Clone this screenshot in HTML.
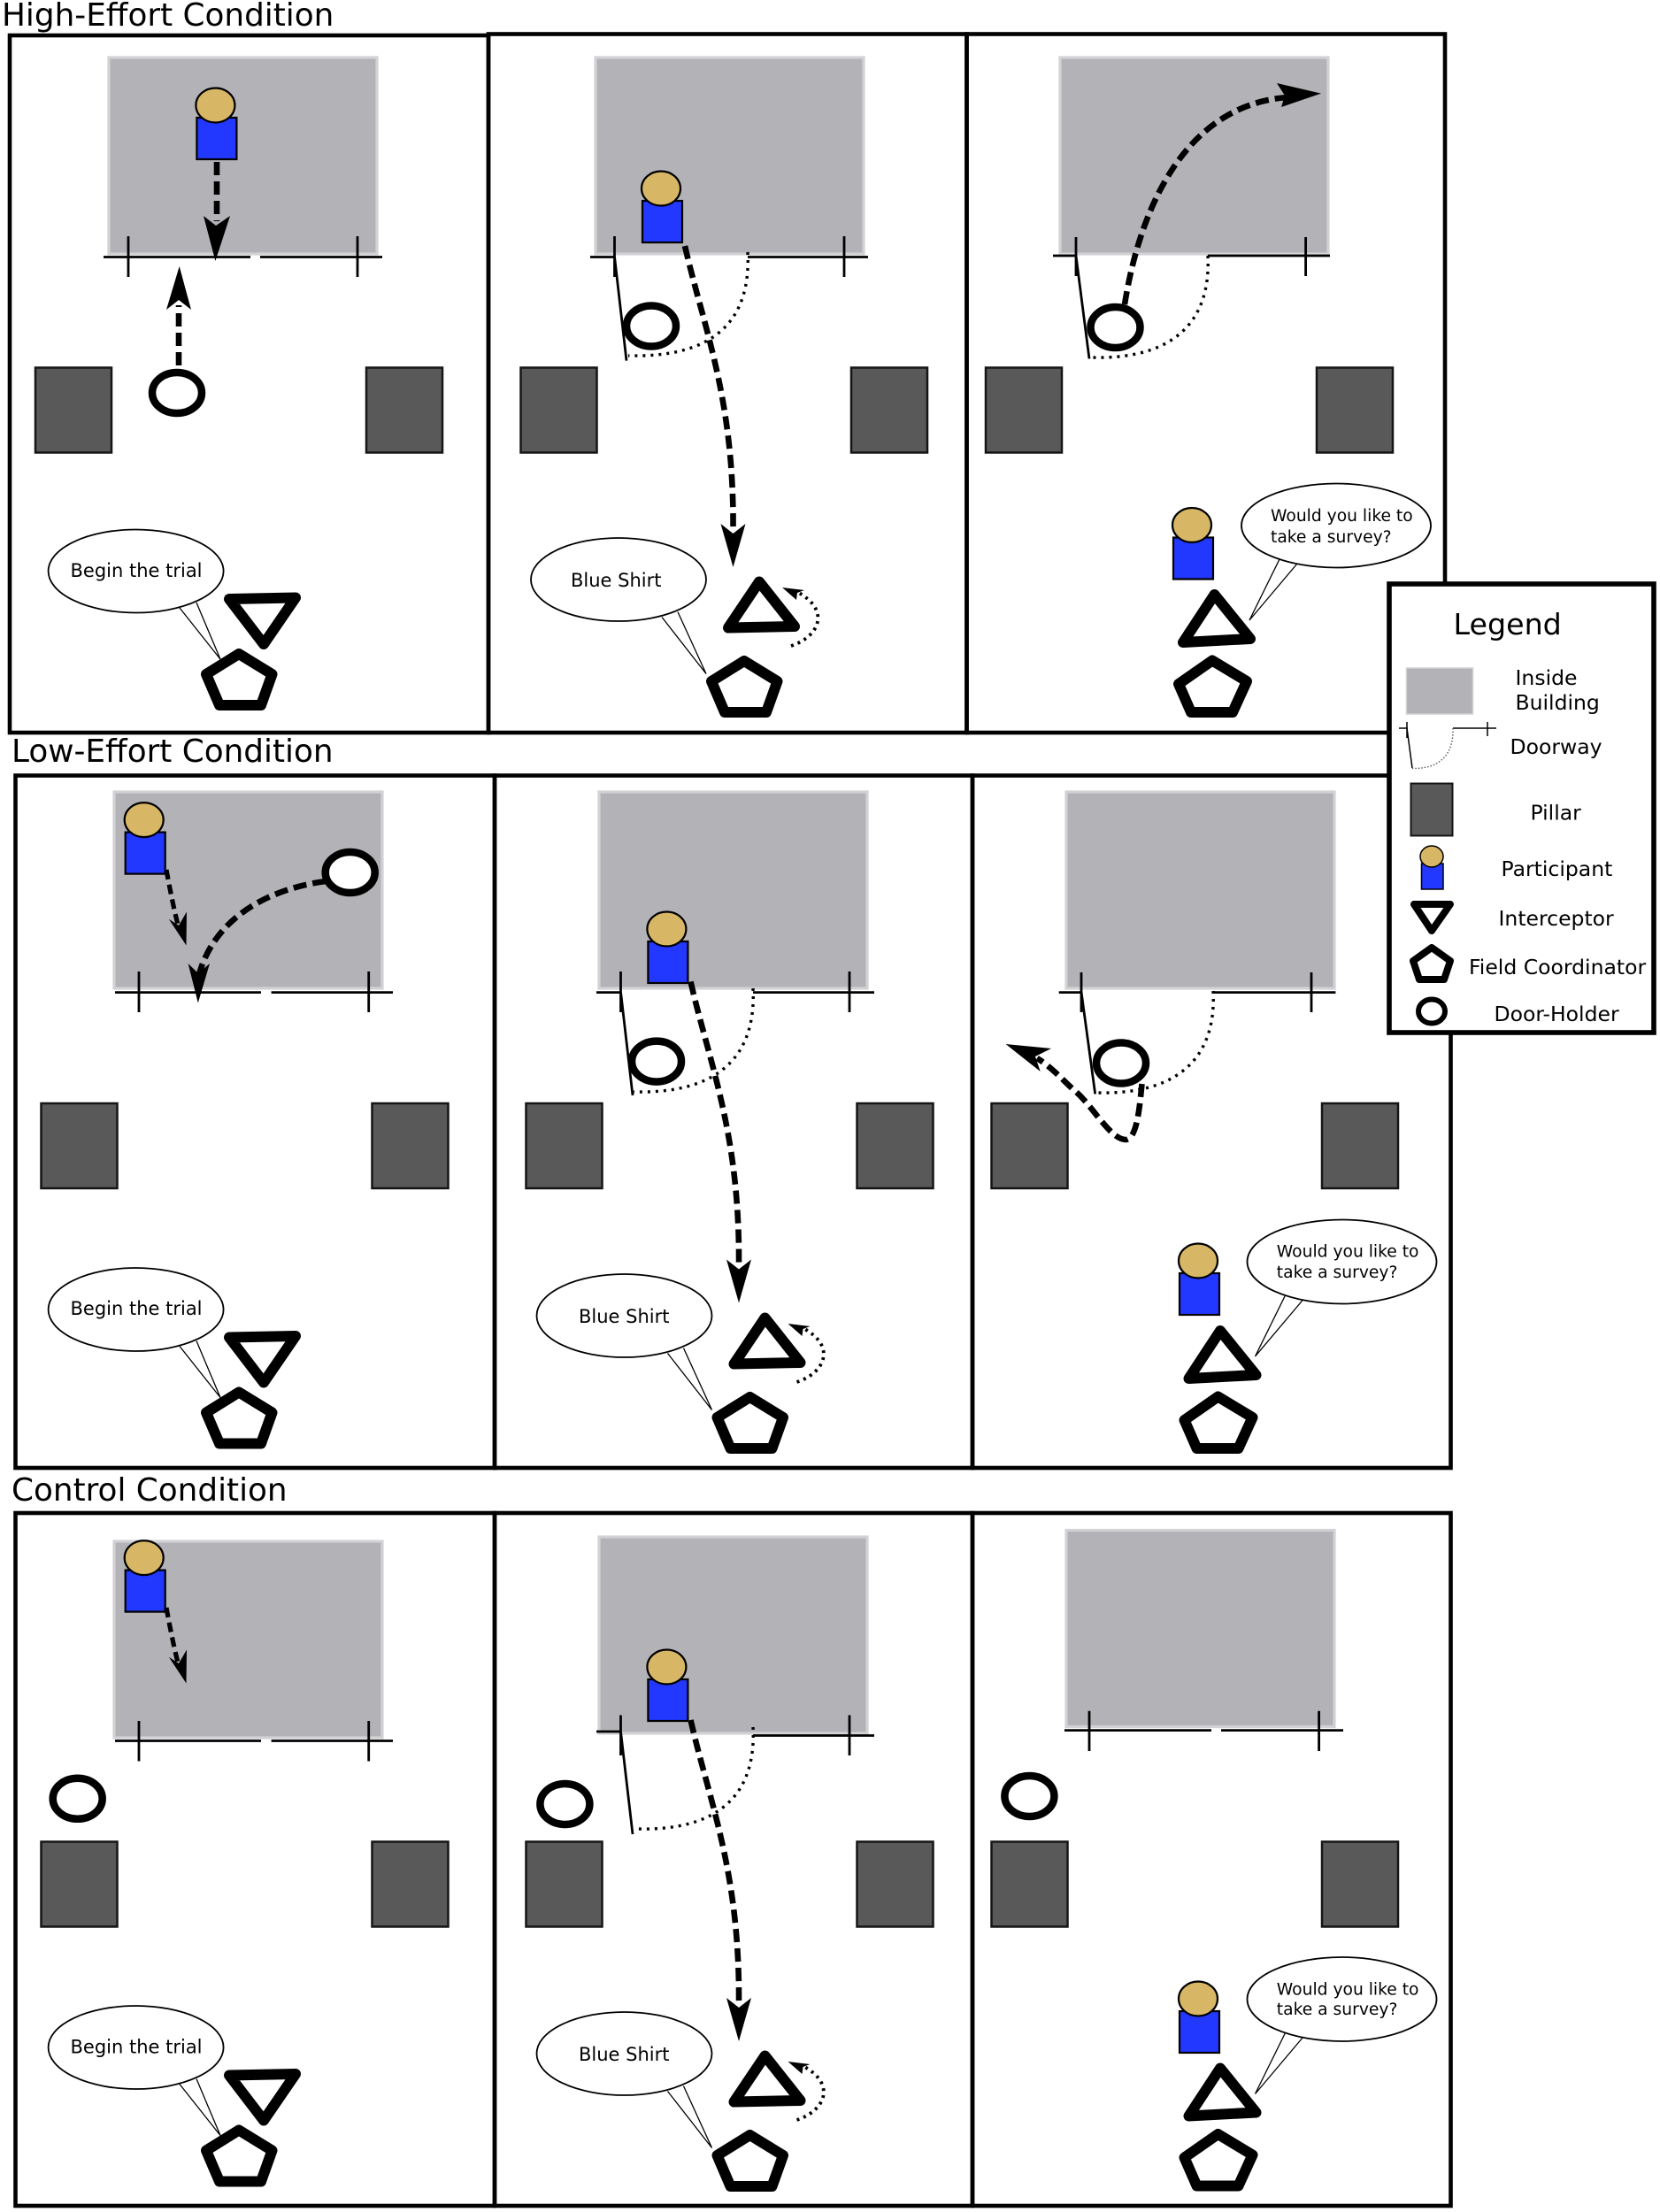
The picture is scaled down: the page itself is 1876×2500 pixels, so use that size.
<!DOCTYPE html>
<html>
<head>
<meta charset="utf-8">
<style>
html,body{margin:0;padding:0;background:#fff;width:1876px;height:2500px;overflow:hidden}
svg{display:block}
text{font-family:"DejaVu Sans",sans-serif;fill:#000}
.t{font-size:35.8px}.s{font-size:21px}.w{font-size:18.7px}.l{font-size:23.5px}
.f{fill:none;stroke:#000;stroke-width:4.6}
.d{stroke:#000;stroke-width:2.8;fill:none}
.o{stroke:#000;stroke-width:3.4;fill:none;stroke-dasharray:3 6}
.a{stroke:#000;stroke-width:6.6;fill:none;stroke-dasharray:15 7}
.a2{stroke:#000;stroke-width:5.2;fill:none;stroke-dasharray:11 6}
.m{stroke:#000;stroke-width:3.8;fill:none;stroke-dasharray:3 5}
.e{fill:#fff;stroke:#000;stroke-width:1.8}
.x{fill:none;stroke:#000;stroke-width:1.3}
</style>
</head>
<body>
<svg width="1876" height="2500" viewBox="0 0 1876 2500" xmlns="http://www.w3.org/2000/svg">
<defs>
<rect id="b" x="0" y="0" width="303" height="222" fill="#b3b2b7" stroke="#d2d2d5" stroke-width="3.2"/>
<rect id="p" x="0" y="0" width="86" height="96" fill="#595959" stroke="#151515" stroke-width="2.5"/>
<g id="u"><rect x="0" y="0" width="45" height="47" fill="#2238ff" stroke="#000" stroke-width="2.2"/><ellipse cx="21" cy="-14" rx="22" ry="19.5" fill="#d7b665" stroke="#000" stroke-width="2.2"/></g>
<ellipse id="r" cx="0" cy="0" rx="28" ry="23" fill="#fff" stroke="#000" stroke-width="8.5"/>
<polygon id="pe" points="270,739 307.5,762 295,797 248,797 233,762" fill="#fff" stroke="#000" stroke-width="12" stroke-linejoin="round"/>
<polygon id="ti" points="259,677 334,675.5 298,728" fill="#fff" stroke="#000" stroke-width="12" stroke-linejoin="round"/>
<polygon id="tu" points="858,657.5 898,708 823,709.5" fill="#fff" stroke="#000" stroke-width="12" stroke-linejoin="round"/>
<polygon id="tv" points="1372.5,672 1413,722 1337,726" fill="#fff" stroke="#000" stroke-width="12" stroke-linejoin="round"/>
<polygon id="pv" points="1370,746.5 1409,770 1393,805 1346,805 1332,773" fill="#fff" stroke="#000" stroke-width="12" stroke-linejoin="round"/>
<g id="sa"><path class="x" d="M203,687 L249,745 L222,681"/><ellipse class="e" cx="153.6" cy="645.5" rx="99" ry="47"/><use href="#ti"/><use href="#pe"/></g>
<g id="sb"><path class="x" d="M748,697.5 L798,761.5 L766,691.6"/><ellipse class="e" cx="699" cy="655" rx="99" ry="47"/><use href="#tu"/><use href="#pe" transform="translate(571,8)"/><path class="m" d="M894,730 C925,720 940,690 901,669"/><polygon points="884,664 909,667 901,670 900,678"/></g>
<g id="sc"><path class="x" d="M1447,630 L1412,701 L1466,637"/><ellipse class="e" cx="1510" cy="594" rx="107" ry="47.5"/><use href="#tv"/><use href="#pv"/></g>
<g id="bg"><path class="a" d="M774,278 C795,370 830,450 828.5,600"/><polygon points="828.5,641 814.5,592 828.5,603 842.5,592"/></g>
<g id="sm"><path class="a2" d="M188,983 C192,1005 196,1025 201,1045"/><polygon points="210.5,1068.5 190.8,1038.7 202,1046 211,1030.5"/></g>
</defs>

<!-- Row 1 -->
<text class="t" x="2" y="29">High-Effort Condition</text>
<rect class="f" x="11" y="40" width="541" height="788"/>
<rect class="f" x="552" y="38.5" width="540.5" height="789.5"/>
<rect class="f" x="1092.5" y="38.5" width="540.5" height="789.5"/>

<!-- R1 P1 -->
<use href="#b" x="123" y="65"/>
<path class="d" d="M117,290.5H283M294,290.5H432M145,267V313M404,267V313"/>
<use href="#u" x="222.4" y="133"/>
<path class="a" d="M245,183V250"/><polygon points="243.4,295 230,244 244,255 260,244"/>
<use href="#r" x="200" y="444"/>
<path class="a" d="M202,413V345"/><polygon points="202.7,301 188,350 202,339 216,350"/>
<use href="#p" x="40" y="415.5"/><use href="#p" x="414" y="415.5"/>
<use href="#sa"/>
<text class="s" x="79.5" y="652">Begin the trial</text>

<!-- R1 P2 -->
<use href="#b" x="673" y="65"/>
<path class="d" d="M667,290.5H694.5M845,290.5H981M694.5,267V313M954,267V313M694.5,290 L708,407.6"/>
<path class="o" d="M845,285 C848,345 825,405 710,402"/>
<use href="#r" x="736" y="368.5"/>
<use href="#u" x="726" y="227"/>
<use href="#bg"/>
<use href="#p" x="588.5" y="415.5"/><use href="#p" x="962" y="415.5"/>
<use href="#sb"/>
<text class="s" x="645" y="663">Blue Shirt</text>

<!-- R1 P3 -->
<use href="#b" x="1198" y="65"/>
<path class="d" d="M1190,289H1216M1365,289H1503M1216,268V312M1475.6,268V312M1216,289 L1231,405.5"/>
<path class="o" d="M1365,289 C1368,345 1345,407 1233,404"/>
<use href="#r" x="1260.5" y="370"/>
<path class="a" d="M1271,344 C1290,225 1345,118 1455,110"/><polygon points="1493,105.6 1443,94 1452,108 1448,121"/>
<use href="#p" x="1114" y="415.5"/><use href="#p" x="1488" y="415.5"/>
<use href="#u" x="1326" y="607.5"/>
<use href="#sc"/>
<text class="w" x="1436" y="589">Would you like to</text>
<text class="w" x="1436" y="613">take a survey?</text>

<!-- Row 2 -->
<text class="t" x="13" y="861">Low-Effort Condition</text>
<rect class="f" x="17.5" y="876.5" width="541.5" height="782.5"/>
<rect class="f" x="559" y="876.5" width="540" height="782.5"/>
<rect class="f" x="1099" y="876.5" width="540.5" height="782.5"/>

<!-- R2 P1 -->
<use href="#b" x="129" y="895"/>
<path class="d" d="M130,1121.6H295M306.6,1121.6H444M157,1098V1144M416.7,1098V1144"/>
<use href="#u" x="141.7" y="940.6"/>
<use href="#sm"/>
<use href="#r" x="395.7" y="986"/>
<path class="a" d="M368,996 C300,1005 240,1040 224,1105"/><polygon points="223.8,1133.5 212.6,1089 224,1100 237,1089"/>
<use href="#p" x="46.5" y="1247"/><use href="#p" x="420.5" y="1247"/>
<use href="#sa" y="834.5"/>
<text class="s" x="79.5" y="1486">Begin the trial</text>

<!-- R2 P2 -->
<use href="#b" x="677" y="895"/>
<path class="d" d="M674,1121.6H701.5M851,1121.6H988M701.5,1098V1144M960,1098V1144M701.5,1121 L715,1238"/>
<path class="o" d="M851,1117 C854,1175 831,1237 716,1234"/>
<use href="#r" x="742" y="1199.6"/>
<use href="#u" x="732.4" y="1064"/>
<use href="#bg" x="6.5" y="831.5"/>
<use href="#p" x="594.5" y="1247"/><use href="#p" x="968.5" y="1247"/>
<use href="#sb" x="6.5" y="832"/>
<text class="s" x="654" y="1495">Blue Shirt</text>

<!-- R2 P3 -->
<use href="#b" x="1205" y="895"/>
<path class="d" d="M1196.7,1121.6H1222M1371.6,1121.6H1509.4M1222,1099V1144M1482,1099V1144M1222,1121 L1237.7,1236.4"/>
<path class="o" d="M1371,1120 C1374,1175 1352,1238 1239,1235"/>
<use href="#r" x="1267" y="1201.5"/>
<path class="a" d="M1290.5,1225 C1288,1250 1285,1288 1272,1288 C1255,1288 1235,1250 1215,1233 C1205,1225 1190,1207 1172,1196"/>
<polygon points="1136.6,1180 1188,1185 1170,1194 1175.7,1211"/>
<use href="#p" x="1120.5" y="1247"/><use href="#p" x="1494" y="1247"/>
<use href="#u" x="1333" y="1439"/>
<use href="#sc" x="6.5" y="832"/>
<text class="w" x="1442.8" y="1420.7">Would you like to</text>
<text class="w" x="1442.8" y="1444">take a survey?</text>

<!-- Row 3 -->
<text class="t" x="13" y="1696">Control Condition</text>
<rect class="f" x="17.5" y="1710" width="541.5" height="783"/>
<rect class="f" x="559" y="1710" width="540" height="783"/>
<rect class="f" x="1099" y="1710" width="540.5" height="783"/>

<!-- R3 P1 -->
<use href="#b" x="129" y="1742"/>
<path class="d" d="M130,1967.5H295M306.6,1967.5H444M157,1945V1990.5M416.7,1945V1990.5"/>
<use href="#u" x="141.7" y="1774.6"/>
<use href="#sm" y="834"/>
<use href="#r" x="87.7" y="2032.8"/>
<use href="#p" x="46.5" y="2081.5"/><use href="#p" x="420.5" y="2081.5"/>
<use href="#sa" y="1668.5"/>
<text class="s" x="79.5" y="2320.4">Begin the trial</text>

<!-- R3 P2 -->
<use href="#b" x="677" y="1737"/>
<path class="d" d="M674,1957H701.5M851,1961.5H988M701.5,1938.5V1984M960,1938.5V1984M701.5,1957 L715,2073"/>
<path class="o" d="M851,1952 C854,2010 831,2070 719,2067"/>
<use href="#r" x="638.4" y="2039"/>
<use href="#u" x="732.4" y="1898"/>
<use href="#bg" x="6.5" y="1666"/>
<use href="#p" x="594.5" y="2081.5"/><use href="#p" x="968.5" y="2081.5"/>
<use href="#sb" x="6.5" y="1666"/>
<text class="s" x="654" y="2329">Blue Shirt</text>

<!-- R3 P3 -->
<use href="#b" x="1205" y="1729.5"/>
<path class="d" d="M1203,1955.6H1369M1380,1955.6H1518M1231,1933.7V1979M1490.6,1933.7V1979"/>
<use href="#r" x="1163.4" y="2030"/>
<use href="#p" x="1120.5" y="2081.5"/><use href="#p" x="1494" y="2081.5"/>
<use href="#u" x="1333" y="2273"/>
<use href="#sc" x="6.5" y="1665.5"/>
<text class="w" x="1442.8" y="2254.3">Would you like to</text>
<text class="w" x="1442.8" y="2277">take a survey?</text>

<!-- Legend -->
<rect x="1570" y="660" width="299" height="507" fill="#fff" stroke="#000" stroke-width="5.6"/>
<text x="1642.5" y="717" style="font-size:33.3px">Legend</text>
<rect x="1589.5" y="755" width="75" height="52" fill="#b3b2b7" stroke="#d2d2d5" stroke-width="1.5"/>
<text class="l" x="1712.5" y="774">Inside</text>
<text class="l" x="1712.5" y="802">Building</text>
<path d="M1581,823H1591M1590,816V834M1642,823H1691M1681,816V832M1590,823 L1596,868" fill="none" stroke="#000" stroke-width="1.5"/>
<path d="M1642,823 C1643,850 1630,869 1596,868.5" fill="none" stroke="#555" stroke-width="1.4" stroke-dasharray="1.5 2"/>
<text class="l" x="1706.5" y="852">Doorway</text>
<rect x="1594.5" y="885.5" width="47" height="59" fill="#595959" stroke="#151515" stroke-width="2"/>
<text class="l" x="1729.5" y="926.6">Pillar</text>
<rect x="1606.5" y="976" width="24.5" height="29" fill="#2238ff" stroke="#000" stroke-width="1.5"/>
<ellipse cx="1618" cy="968" rx="13" ry="12" fill="#d7b665" stroke="#000" stroke-width="1.5"/>
<text class="l" x="1696.5" y="990">Participant</text>
<polygon points="1598,1022 1639,1022 1618,1052" fill="#fff" stroke="#000" stroke-width="8" stroke-linejoin="round"/>
<text class="l" x="1693.5" y="1046">Interceptor</text>
<polygon points="1618,1071 1639,1086 1632,1107 1604,1107 1597,1086" fill="#fff" stroke="#000" stroke-width="8" stroke-linejoin="round"/>
<text class="l" x="1660" y="1101">Field Coordinator</text>
<ellipse cx="1618" cy="1143" rx="15" ry="13.5" fill="#fff" stroke="#000" stroke-width="6"/>
<text class="l" x="1688.5" y="1154">Door-Holder</text>
</svg>
</body>
</html>
